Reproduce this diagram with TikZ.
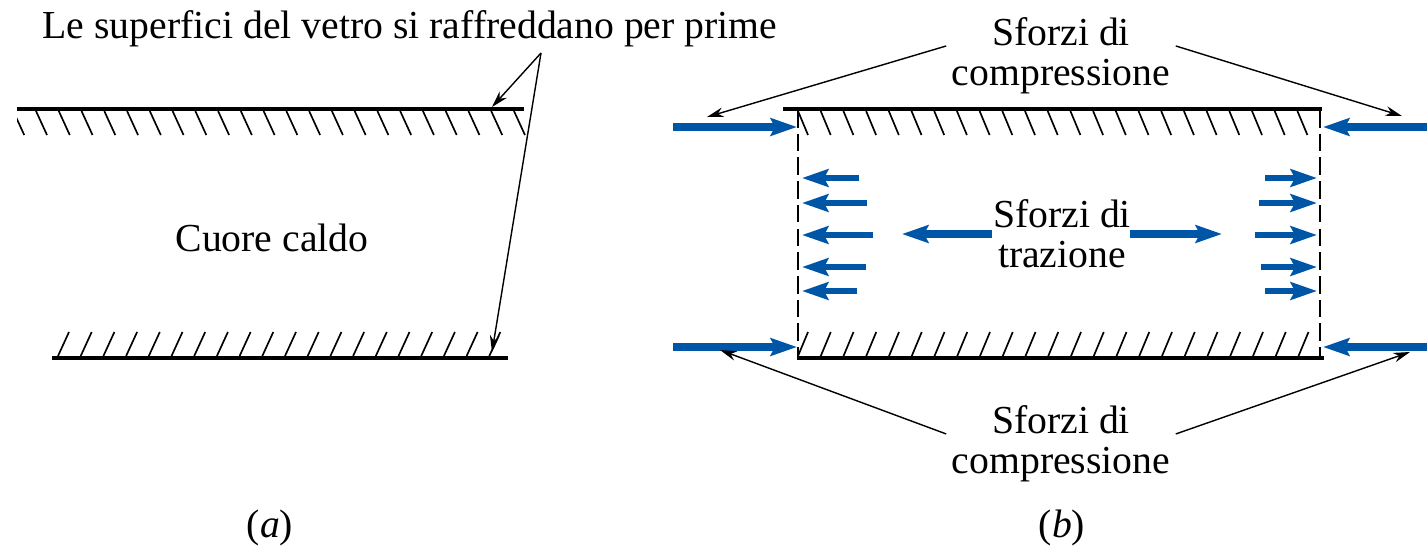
\documentclass[tikz,border=0pt]{standalone}
\usepackage{fontspec}
\setmainfont{Liberation Serif}
\usetikzlibrary{arrows.meta}
\definecolor{stressblue}{RGB}{0,86,166}
\tikzset{
	surface/.style={line width=2pt},
	hatch/.style={line width=0.95pt},
	cut/.style={line width=0.9pt, dash pattern=on 10pt off 3.5pt},
	pointer/.style={line width=0.8pt, -{Stealth[length=9.5pt,width=5.5pt]}},
	stress/.style={stressblue, line width=4.5pt, -{Stealth[length=15pt,width=10pt,inset=2.5pt]}},
	tensile/.style={stress, line width=3.8pt},
	lbl/.style={font=\fontsize{22.6}{22.7}\selectfont, align=center, inner sep=3pt},
}

\begin{document}
\begin{tikzpicture}[x=0.02cm,y=-0.02cm]
	\useasboundingbox (0,0) rectangle (1427,549);
	% (a) surfaces of the glass
	\draw[surface] (17,109) -- (524,109);
	\begin{scope}
		\clip (17,100) rectangle (530,140);
		\foreach \i in {-1,...,21}
			\draw[hatch] ({36+22.76*\i},111) -- ++(11,24);
	\end{scope}
	\draw[surface] (52,358) -- (508,358);
	\foreach \i in {0,...,19}
		\draw[hatch] ({58+22.7*\i},356) -- ++(11,-24);
	% (a) labels
	\node[lbl] (surf) at (410,29) {Le superfici del vetro si raffreddano per prime};
	\node[lbl] (core) at (272,238) {Cuore caldo};
	\node[lbl] (capa) at (270,528) {(\textit{a})};
	\coordinate (fork) at (541,53);
	\coordinate (topa) at (492,107);
	\coordinate (bota) at (492,352);
	\draw[pointer] (fork) -- (topa);
	\draw[pointer] (fork) -- (bota);
	% (b) plate with cut ends
	\draw[surface] (783,109) -- (1322,109);
	\draw[surface] (797,358) -- (1324,358);
	\draw[cut] (798,110) -- (798,357);
	\draw[cut] (1320,110) -- (1320,357);
	\foreach \i in {0,...,22} {
		\draw[hatch] ({798+22.7*\i},111) -- ++(10,24);
		\draw[hatch] ({798+22.75*\i},356) -- ++(10,-24);
	}
	% (b) compression at the surfaces
	\draw[stress] (673,127) -- (797,127);
	\draw[stress] (673,347) -- (797,347);
	\draw[stress] (1427,127) -- (1323,127);
	\draw[stress] (1427,347) -- (1323,347);
	% (b) tension in the core
	\foreach \yy/\xl/\xr in {178/859/1265, 203/867/1259, 235/873/1255, 267/866/1261, 291/857/1265} {
		\draw[tensile] (\xl,\yy) -- (802,\yy);
		\draw[tensile] (\xr,\yy) -- (1317,\yy);
	}
	\draw[stress] (992,234) -- (902,234);
	\draw[stress] (1130,234) -- (1222,234);
	% (b) labels
	\node[lbl] (tcomp) at (1061,56) {Sforzi di\\compressione};
	\node[lbl] (trac) at (1062,234) {Sforzi di\\trazione};
	\node[lbl] (bcomp) at (1061,444) {Sforzi di\\compressione};
	\node[lbl] (capb) at (1062,528) {(\textit{b})};
	\coordinate (tl) at (707,117);
	\coordinate (tr) at (1402,116);
	\coordinate (bl) at (720,350);
	\coordinate (br) at (1410,352);
	\draw[pointer] (tcomp.175) -- (tl);
	\draw[pointer] (tcomp.5) -- (tr);
	\draw[pointer] (bcomp.175) -- (bl);
	\draw[pointer] (bcomp.5) -- (br);
\end{tikzpicture}
\end{document}
